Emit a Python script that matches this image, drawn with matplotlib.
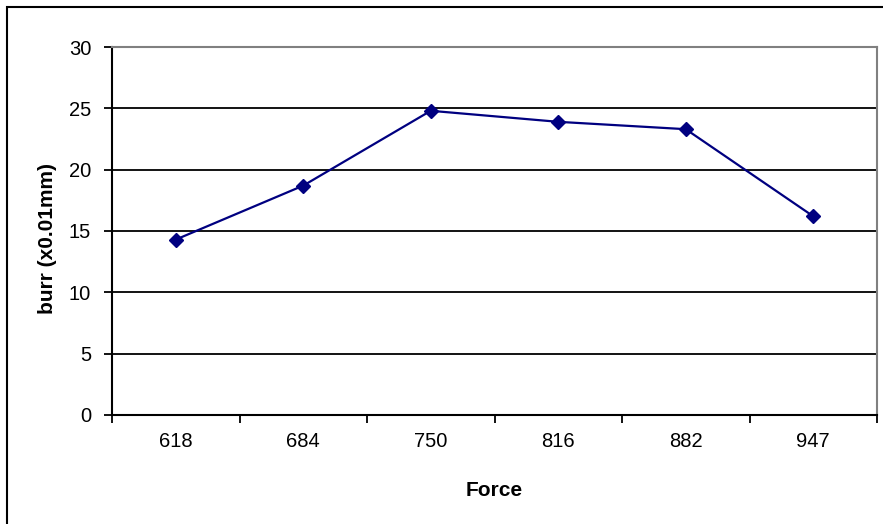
import matplotlib
matplotlib.use('Agg')
import matplotlib.pyplot as plt
from matplotlib.patches import Rectangle
import numpy as np

force = ['618', '684', '750', '816', '882', '947']
burr = [14.3, 18.7, 24.8, 23.9, 23.3, 16.2]

plt.rcParams['font.family'] = ['Liberation Sans', 'DejaVu Sans']

fig = plt.figure(figsize=(8.83, 5.24), dpi=100)
ax = fig.add_axes([112 / 883, 109 / 524, 765 / 883, 368 / 524])

x = np.arange(len(force))
ax.plot(x, burr, color='#000080', linewidth=1.6, marker='D', markersize=7.5,
        markerfacecolor='#000080', markeredgecolor='#000080', zorder=3)

ax.set_xlim(-0.5, len(force) - 0.5)
ax.set_ylim(0, 30)
ax.set_yticks(np.arange(0, 31, 5))
for yv in range(5, 30, 5):
    ax.axhline(yv, color='black', linewidth=1.3, zorder=1)

# category labels sit between the tick marks
ax.set_xticks(np.arange(-0.5, len(force), 1.0))
ax.set_xticklabels([])
ax.set_xticks(x, minor=True)
ax.set_xticklabels(force, minor=True)
ax.tick_params(axis='x', which='minor', length=0, pad=12, labelsize=14.5)
ax.tick_params(axis='x', which='major', length=6, width=1.3, direction='out')
ax.tick_params(axis='y', length=6, width=1.3, direction='out', labelsize=14.5, pad=9)

for s in ['left', 'bottom']:
    ax.spines[s].set_color('black')
    ax.spines[s].set_linewidth(1.5)
for s in ['top', 'right']:
    ax.spines[s].set_color('#808080')
    ax.spines[s].set_linewidth(1.5)

ax.set_xlabel('Force', fontsize=15, fontweight='bold', labelpad=22)
ax.set_ylabel('burr (x0.01mm)', fontsize=15, fontweight='bold')
ax.yaxis.set_label_coords(-0.072, 0.48)

# chart frame, clipped at the right and bottom edges
fig.patches.append(Rectangle((7 / 883, -0.1), 1.0, 1 - 7 / 524 + 0.1,
                             transform=fig.transFigure, fill=False,
                             edgecolor='black', linewidth=1.5))

fig.savefig('out.png', dpi=100)
